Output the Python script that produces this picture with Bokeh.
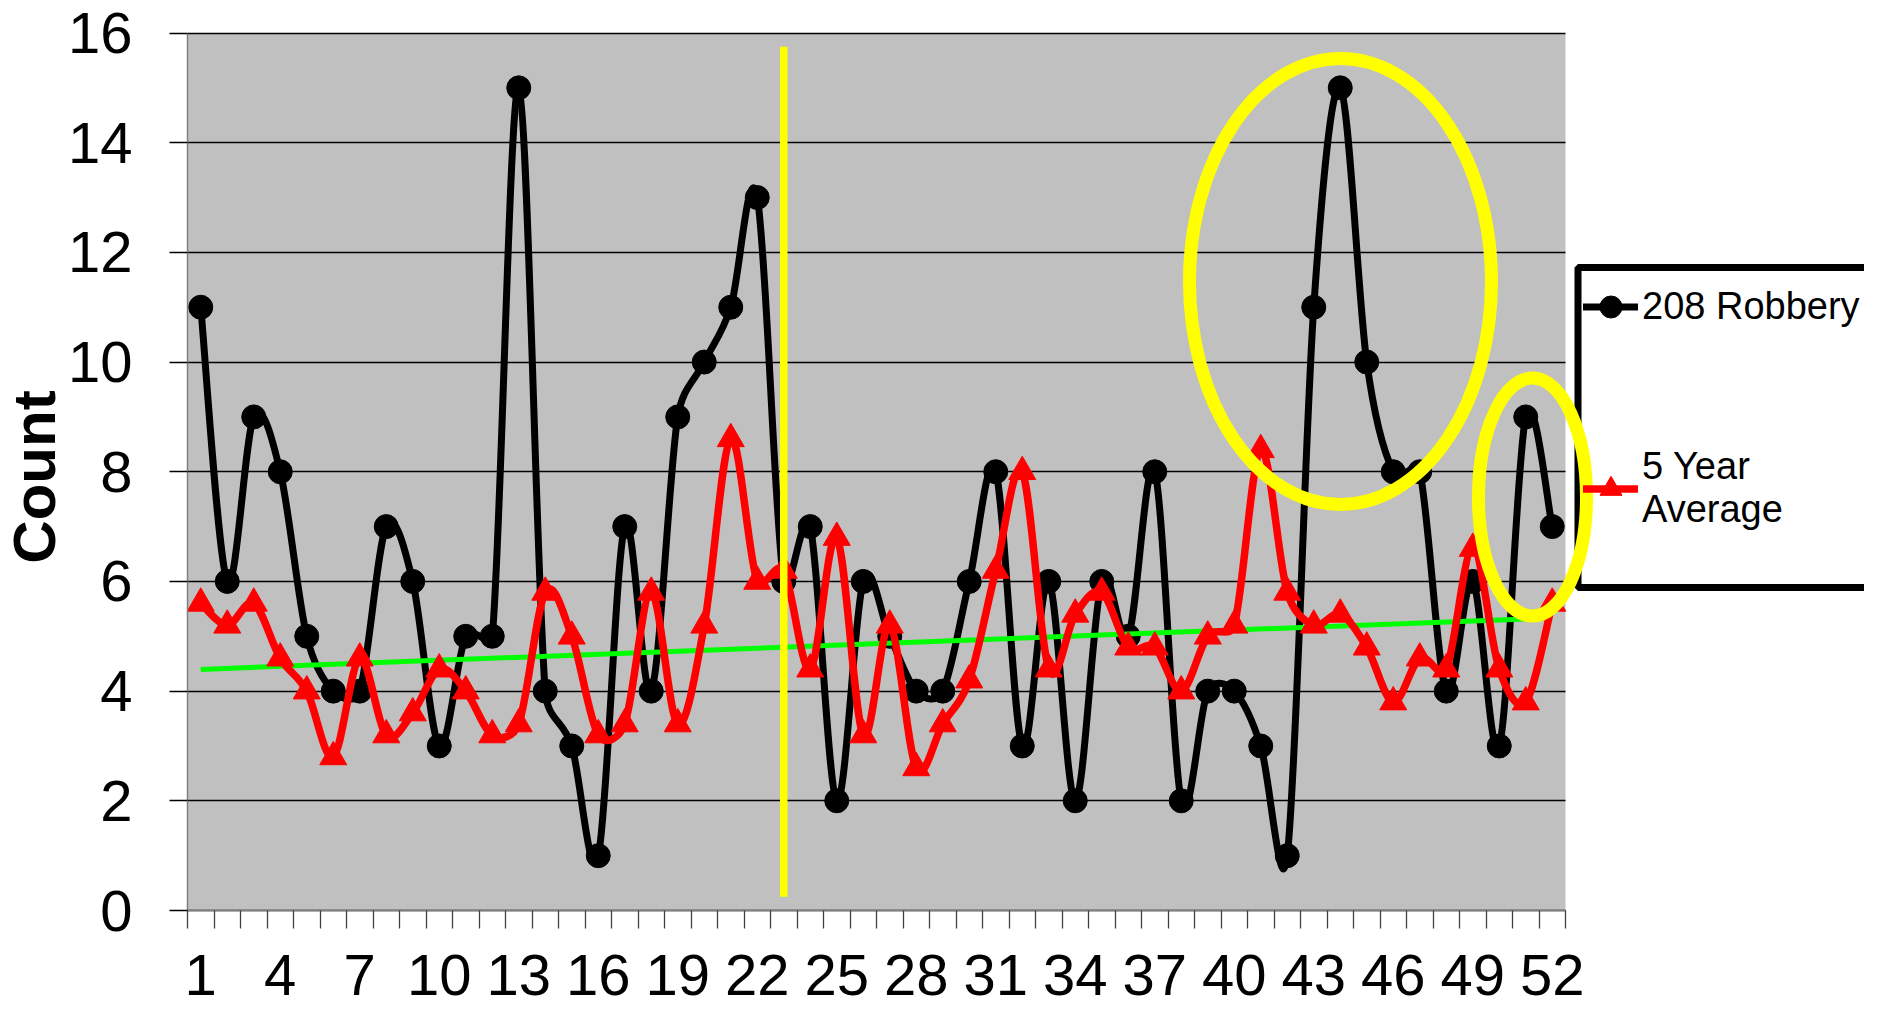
import numpy as np
from bokeh.plotting import figure
from bokeh.models import (Range1d, FixedTicker, Label, Legend, LegendItem, Grid,
                          ColumnDataSource, BoxAnnotation)
from bokeh.embed import file_html
from bokeh.resources import INLINE

# ---------------- data ----------------
weeks = list(range(1, 53))
robbery_208 = [11, 6, 9, 8, 5, 4, 4, 7, 6, 3, 5, 5, 15, 4, 3, 1, 7, 4, 9, 10,
               11, 13, 6, 7, 2, 6, 5, 4, 4, 6, 8, 3, 6, 2, 6, 5, 8, 2, 4, 4,
               3, 1, 11, 15, 10, 8, 8, 4, 6, 3, 9, 7]
five_year_avg = [5.6, 5.2, 5.6, 4.6, 4.0, 2.8, 4.6, 3.2, 3.6, 4.4,
                 4.0, 3.2, 3.4, 5.8, 5.0, 3.2, 3.4, 5.8, 3.4, 5.2,
                 8.6, 6.0, 6.2, 4.4, 6.8, 3.2, 5.2, 2.6, 3.4, 4.2,
                 6.2, 8.0, 4.4, 5.4, 5.8, 4.8, 4.8, 4.0, 5.0, 5.2,
                 8.4, 5.8, 5.2, 5.4, 4.8, 3.8, 4.6, 4.4, 6.6, 4.4,
                 3.8, 5.6]
x_label_weeks = list(range(1, 53, 3))
x_tick_labels = {w: str(w) for w in x_label_weeks}
y_ticks = [0, 2, 4, 6, 8, 10, 12, 14, 16]
series_names = ["208 Robbery", "5 Year\nAverage"]

FONT = "Liberation Sans"

# ---------------- layout (pixels of the canvas) ----------------
W, H = 1864, 1011
PLOT_L, PLOT_R = 187.0, 1565.0        # grey plot area, left / right edge
Y16_PX, Y0_PX = 32.5, 910.0           # pixel rows of value 16 and value 0
n_w = len(weeks)
px_per_week = (PLOT_R - PLOT_L) / n_w
px_per_unit = (Y0_PX - Y16_PX) / 16.0
x_start = 0.5 - PLOT_L / px_per_week
x_end = 0.5 + (W - PLOT_L) / px_per_week
y_end = 16 + Y16_PX / px_per_unit
y_start = -(H - Y0_PX) / px_per_unit


def dx(px):
    return x_start + px / px_per_week


def dy(py):
    return y_end - py / px_per_unit


def smooth_segments(xs, ys):
    """Cubic Bezier pieces of a spreadsheet-style 'smoothed line':
    tangent = (next - previous)/6, each control arm limited to half of its
    own segment (measured on screen)."""
    n = len(xs)
    X = np.asarray(xs, float) * px_per_week      # work in screen pixels
    Y = np.asarray(ys, float) * px_per_unit

    def seg_len(i, j):
        return float(np.hypot(X[j] - X[i], Y[j] - Y[i]))

    def arm(i, toward):
        im, ip = max(i - 1, 0), min(i + 1, n - 1)
        tx, ty = X[ip] - X[im], Y[ip] - Y[im]
        tl = float(np.hypot(tx, ty))
        if tl == 0:
            return 0.0, 0.0
        L = min(tl / 6.0, seg_len(i, toward) / 2.0)
        return tx / tl * L, ty / tl * L

    out = {k: [] for k in ("x0", "y0", "x1", "y1", "cx0", "cy0", "cx1", "cy1")}
    for i in range(n - 1):
        ax, ay = arm(i, i + 1)
        bx, by = arm(i + 1, i)
        out["x0"].append(X[i] / px_per_week); out["y0"].append(Y[i] / px_per_unit)
        out["x1"].append(X[i + 1] / px_per_week); out["y1"].append(Y[i + 1] / px_per_unit)
        out["cx0"].append((X[i] + ax) / px_per_week)
        out["cy0"].append((Y[i] + ay) / px_per_unit)
        out["cx1"].append((X[i + 1] - bx) / px_per_week)
        out["cy1"].append((Y[i + 1] - by) / px_per_unit)
    return ColumnDataSource(out)


p = figure(width=W, height=H,
           x_range=Range1d(x_start, x_end), y_range=Range1d(y_start, y_end),
           output_backend="svg", toolbar_location=None,
           min_border=0, min_border_left=0, min_border_right=0,
           min_border_top=0, min_border_bottom=0,
           background_fill_color="white", border_fill_color="white")
p.outline_line_color = None

# grey plot area
p.add_layout(BoxAnnotation(left=0.5, right=n_w + 0.5, bottom=0, top=16,
                           fill_color="#C0C0C0", fill_alpha=1.0, line_color=None,
                           level="image"))

# horizontal grid lines
p.xgrid.visible = False
yg = p.ygrid[0]
yg.ticker = FixedTicker(ticks=y_ticks)
yg.grid_line_color = "black"
yg.grid_line_width = 1.3
if "cross_bounds" in Grid.properties():
    yg.cross_bounds = (0.5, n_w + 0.5)
else:
    yg.visible = False
    p.segment(x0=[0.5] * len(y_ticks), x1=[n_w + 0.5] * len(y_ticks), y0=y_ticks, y1=y_ticks,
              line_color="black", line_width=1.3, level="underlay")

# y axis (drawn at the left edge of the grey area)
ya = p.yaxis[0]
ya.fixed_location = 0.5
ya.bounds = (0, 16)
ya.ticker = FixedTicker(ticks=y_ticks)
ya.major_label_text_font = FONT
ya.major_label_text_font_size = "58px"
ya.major_label_text_color = "black"
ya.major_tick_out = 18
ya.major_tick_in = 0
ya.major_tick_line_color = "black"
ya.major_tick_line_width = 1.3
ya.minor_tick_line_color = None
ya.axis_line_color = "#808080"
ya.axis_line_width = 1.5
ya.major_label_standoff = 37

# x axis: tick marks on week boundaries (minor), labels every 3rd week (major)
xa = p.xaxis[0]
xa.fixed_location = 0
xa.bounds = (0.5, n_w + 0.5)
xa.ticker = FixedTicker(ticks=x_label_weeks,
                        minor_ticks=[w - 0.5 for w in weeks] + [weeks[-1] + 0.5])
xa.major_label_overrides = x_tick_labels
xa.major_label_text_font = FONT
xa.major_label_text_font_size = "58px"
xa.major_label_text_color = "black"
xa.major_label_standoff = 26
xa.major_tick_out = 0
xa.major_tick_in = 0
xa.major_tick_line_color = None
xa.minor_tick_out = 18
xa.minor_tick_in = 0
xa.minor_tick_line_color = "#404040"
xa.minor_tick_line_width = 1.3
xa.axis_line_color = "#808080"
xa.axis_line_width = 1.5

# y axis title
p.add_layout(Label(x=33.5, y=H - 476.5, x_units="screen", y_units="screen", text="Count",
                   angle=np.pi / 2, text_align="center", text_baseline="alphabetic",
                   text_font=FONT, text_font_size="60px", text_font_style="bold",
                   text_color="black"))

# trend line of the 5-year average (least squares)
slope, intercept = np.polyfit(weeks, five_year_avg, 1)
trend_x = [weeks[0], weeks[-1]]
trend_y = [intercept + slope * trend_x[0], intercept + slope * trend_x[1]]

# series 1 : black smoothed line + circles
r_black_line = p.bezier(x0="x0", y0="y0", x1="x1", y1="y1", cx0="cx0", cy0="cy0",
                        cx1="cx1", cy1="cy1", source=smooth_segments(weeks, robbery_208),
                        line_color="black", line_width=7, line_cap="round")
r_black_pts = p.scatter(weeks, robbery_208, marker="circle", size=24,
                        fill_color="black", line_color="black")

# trend line
p.line(trend_x, trend_y, line_color="#00FF00", line_width=5)

# series 2 : red smoothed line + triangles
r_red_line = p.bezier(x0="x0", y0="y0", x1="x1", y1="y1", cx0="cx0", cy0="cy0",
                      cx1="cx1", cy1="cy1", source=smooth_segments(weeks, five_year_avg),
                      line_color="red", line_width=7.5, line_cap="round")
r_red_pts = p.scatter(weeks, five_year_avg, marker="triangle", size=27,
                      fill_color="red", line_color="red")

# yellow divider line
p.segment(x0=[23], y0=[0.25], x1=[23], y1=[15.75], line_color="#FFFF00", line_width=7.5)

# legend frame + entries
p.add_layout(BoxAnnotation(left=dx(1577.5), right=dx(2100), top=dy(267), bottom=dy(587),
                           fill_color="white", fill_alpha=1.0,
                           line_color="black", line_width=7, line_alpha=1.0))
legend = Legend(items=[LegendItem(label=series_names[0], renderers=[r_black_line, r_black_pts]),
                       LegendItem(label=series_names[1], renderers=[r_red_line, r_red_pts])],
                location=(1583, H - 531), orientation="vertical",
                border_line_color=None, background_fill_alpha=0.0,
                label_text_font=FONT, label_text_font_size="38px", label_text_color="black",
                label_text_line_height=1.1,
                glyph_width=55, glyph_height=55, label_height=55, label_standoff=4,
                padding=0, spacing=111, margin=0)
p.add_layout(legend)

# yellow highlight ellipses (on top of everything)
p.ellipse(x=[dx(1340), dx(1532)], y=[dy(281), dy(496.6)],
          width=[302 / px_per_week, 108 / px_per_week],
          height=[446 / px_per_unit, 238 / px_per_unit],
          fill_color=None, line_color="#FFFF00", line_width=13, level="overlay")

open("out.html", "w").write(file_html(p, INLINE))
